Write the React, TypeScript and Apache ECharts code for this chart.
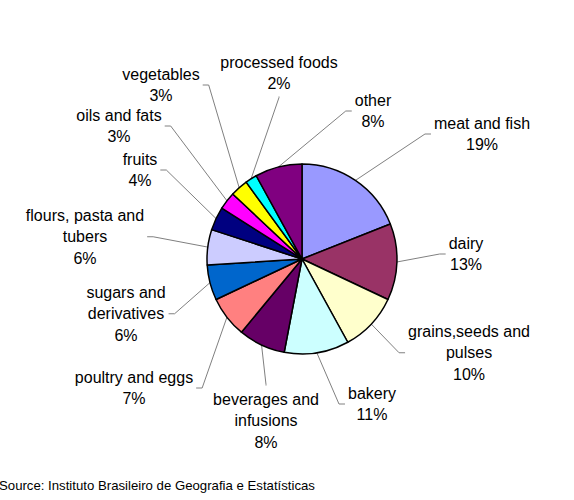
import React, { useEffect, useRef } from "react";
import * as echarts from "echarts";

const categories = [
  "meat and fish",
  "dairy",
  "grains,seeds and\npulses",
  "bakery",
  "beverages and\ninfusions",
  "poultry and eggs",
  "sugars and\nderivatives",
  "flours, pasta and\ntubers",
  "fruits",
  "oils and fats",
  "vegetables",
  "processed foods",
  "other",
];
const shares = [19, 13, 10, 11, 8, 7, 6, 6, 4, 3, 3, 2, 8];
const sliceColors = [
  "#9999FF", "#993366", "#FFFFCC", "#CCFFFF", "#660066", "#FF8080", "#0066CC",
  "#CCCCFF", "#000080", "#FF00FF", "#FFFF00", "#00FFFF", "#800080",
];
// label placement: centre x, top y, side of the label where the leader line arrives
const labelPlacement: [number, number, string][] = [
  [482, 112.5, "left"],
  [466, 232.5, "left"],
  [469, 320.5, "left"],
  [372, 382.5, "left"],
  [266, 388.5, "top"],
  [134, 366.5, "right"],
  [126, 281.5, "right"],
  [85, 204.5, "right"],
  [140, 148.5, "right"],
  [119, 104.5, "right"],
  [161, 63.5, "right"],
  [279, 51.5, "bottom"],
  [373, 89.5, "left"],
];
const sourceText = "Source: Instituto Brasileiro de Geografia e Estatísticas";

export default function App() {
  const ref = useRef<HTMLDivElement>(null);
  useEffect(() => {
    if (!ref.current) return;
    const chart = echarts.init(ref.current, null, { renderer: "svg" });
    const font = "'Liberation Sans', Arial, Helvetica, sans-serif";
    chart.setOption({
      animation: false,
      backgroundColor: "#ffffff",
      graphic: [
        {
          type: "text",
          left: -1,
          top: 479,
          style: { text: sourceText, fontSize: 13.2, fontFamily: font, fill: "#000" },
        },
      ],
      series: [
        {
          type: "pie",
          center: [302, 259],
          radius: [0, 95],
          startAngle: 90,
          clockwise: true,
          avoidLabelOverlap: false,
          data: categories.map((c, i) => ({
            name: c,
            value: shares[i],
            itemStyle: { color: sliceColors[i] },
          })),
          itemStyle: { borderColor: "#000", borderWidth: 1.5 },
          emphasis: { disabled: true },
          label: {
            show: true,
            position: "outside",
            formatter: (p: any) => `${p.name}\n${p.value}%`,
            fontSize: 16,
            fontFamily: font,
            color: "#000",
            lineHeight: 21.5,
            align: "center",
          },
          labelLine: {
            show: true,
            length: 10,
            length2: 10,
            lineStyle: { color: "#808080", width: 1 },
          },
          labelLayout: (params: any) => {
            const pl = labelPlacement[params.dataIndex];
            const w = params.labelRect.width;
            const h = params.labelRect.height;
            const cx = pl[0];
            const top = pl[1];
            const x0 = cx - w / 2;
            const midY = top + h / 2;
            const p0 = params.labelLinePoints ? params.labelLinePoints[0] : [cx, top];
            let pts: number[][];
            if (pl[2] === "left") {
              pts = [p0, [x0 - 9, midY], [x0 - 3, midY]];
            } else if (pl[2] === "right") {
              pts = [p0, [x0 + w + 9, midY], [x0 + w + 3, midY]];
            } else if (pl[2] === "top") {
              pts = [p0, [cx, top - 4], [cx, top - 3]];
            } else {
              pts = [p0, [cx, top + h + 3], [cx, top + h + 2]];
            }
            return {
              x: cx,
              y: top,
              align: "center",
              verticalAlign: "top",
              labelLinePoints: pts,
            };
          },
        },
      ],
    });
    return () => chart.dispose();
  }, []);
  return (
    <div
      ref={ref}
      style={{ position: "absolute", left: 0, top: 0, width: 574, height: 500 }}
    />
  );
}
